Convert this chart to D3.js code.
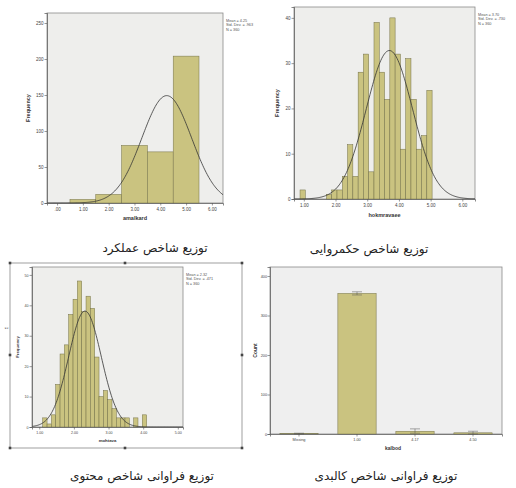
<!DOCTYPE html>
<html><head><meta charset="utf-8">
<script src="https://cdn.jsdelivr.net/npm/d3@7"></script>
<style>body{margin:0;background:#fff}svg{display:block}</style>
</head><body>
<svg id="c" width="516" height="488"></svg>
<script>
// ---------- data ----------
const amalBinStart = 0.5, amalBinWidth = 1;
const amalCounts = [5, 12, 80, 71, 204];
const amalStats = {mean: 4.25, sd: 0.963, n: 360};
const amalXTicks = [0, 1, 2, 3, 4, 5, 6];
const amalXLabels = [".00", "1.00", "2.00", "3.00", "4.00", "5.00", "6.00"];
const amalYTicks = [0, 50, 100, 150, 200, 250];

const hokmBinStart = 0.88, hokmBinWidth = 1 / 6;
const hokmCounts = [2, 0, 0, 0, 0, 1, 2, 2, 5, 12, 5, 28, 32, 6, 39, 28, 22, 40, 32, 11, 31, 22, 11, 14, 24];
const hokmStats = {mean: 3.70, sd: 0.730, n: 360};
const hokmXTicks = [1, 2, 3, 4, 5, 6];
const hokmXLabels = ["1.00", "2.00", "3.00", "4.00", "5.00", "6.00"];
const hokmYTicks = [0, 10, 20, 30, 40];

const mohBinStart = 1.1, mohBinWidth = 0.125;
const mohCounts = [3, 1, 4, 14, 24, 27, 37, 42, 48, 38, 43, 39, 23, 10, 12, 9, 6, 3, 3, 3, 0, 3, 0, 4];
const mohStats = {mean: 2.32, sd: 0.471, n: 360};
const mohXTicks = [1, 2, 3, 4, 5];
const mohXLabels = ["1.00", "2.00", "3.00", "4.00", "5.00"];
const mohYTicks = [0, 10, 20, 30, 40, 50];

const kalCategories = ["Missing", "1.00", "4.17", "4.50"];
const kalCounts = [1, 356, 7, 3];
const kalErrLow = [0, 352, 2, 0];
const kalErrHigh = [2, 360, 13, 7];
const kalYTicks = [0, 100, 200, 300, 400];

const captions = ["توزیع شاخص عملکرد", "توزیع شاخص حکمروایی", "توزیع فراوانی شاخص محتوی", "توزیع فراوانی شاخص کالبدی"];

// ---------- drawing ----------
const svg = d3.select("#c");
svg.append("rect").attr("width", 516).attr("height", 488).attr("fill", "#fff");
const BAR = "#cac380", BAR_STROKE = "#737047", BG = "#eeeeec", FRAME = "#8a8a8a";
const tickFont = "Liberation Sans, Arial, sans-serif";

function normalPdf(x, m, s) { return Math.exp(-0.5 * ((x - m) / s) ** 2) / (s * Math.sqrt(2 * Math.PI)); }

function hist(o) {
  const g = svg.append("g");
  const x = d3.scaleLinear().domain(o.xDomain).range([o.x0, o.x1]);
  const y = d3.scaleLinear().domain(o.yDomain).range([o.y1, o.y0]);
  g.append("rect").attr("x", o.x0).attr("y", o.y0).attr("width", o.x1 - o.x0).attr("height", o.y1 - o.y0)
    .attr("fill", BG).attr("stroke", FRAME).attr("stroke-width", 0.8);
  const bins = o.counts.map((c, i) => ({a: o.start + i * o.width, b: o.start + (i + 1) * o.width, c}));
  g.selectAll(".bar").data(bins.filter(d => d.c > 0)).join("rect")
    .attr("x", d => x(d.a)).attr("width", d => x(d.b) - x(d.a))
    .attr("y", d => y(d.c)).attr("height", d => y(0) - y(d.c))
    .attr("fill", BAR).attr("stroke", BAR_STROKE).attr("stroke-width", 0.5);
  // normal curve
  const s = o.stats;
  const pts = d3.range(o.xDomain[0], o.xDomain[1] + 1e-9, (o.xDomain[1] - o.xDomain[0]) / 200)
    .map(v => [v, s.n * o.width * normalPdf(v, s.mean, s.sd)]);
  g.append("path").datum(pts).attr("fill", "none").attr("stroke", "#333").attr("stroke-width", 0.8)
    .attr("d", d3.line().x(d => x(d[0])).y(d => Math.max(o.y0, y(d[1]))));
  // axes
  const ya = d3.axisLeft(y).tickValues(o.yTicks).tickSize(2.5).tickFormat(d3.format("d"));
  const yg = g.append("g").attr("transform", `translate(${o.x0},0)`).call(ya);
  const xa = d3.axisBottom(x).tickValues(o.xTicks).tickSize(2.5).tickFormat((d, i) => o.xLabels[i]);
  const xg = g.append("g").attr("transform", `translate(0,${o.y1})`).call(xa);
  [yg, xg].forEach(a => {
    a.select(".domain").attr("stroke", "#555").attr("stroke-width", 0.7);
    a.selectAll(".tick line").attr("stroke", "#555").attr("stroke-width", 0.6);
    a.selectAll("text").attr("font-size", o.tick).attr("fill", "#444").attr("font-family", tickFont);
  });
  yg.selectAll("text").attr("x", -3.5);
  xg.selectAll("text").attr("y", 4.5);
  g.append("text").attr("transform", `translate(${o.ylx},${(o.y0 + o.y1) / 2}) rotate(-90)`)
    .attr("text-anchor", "middle").attr("font-size", o.lab).attr("font-weight", "bold")
    .attr("font-family", tickFont).attr("fill", "#333").text("Frequency");
  g.append("text").attr("x", (o.x0 + o.x1) / 2).attr("y", o.xly).attr("text-anchor", "middle")
    .attr("font-size", o.lab).attr("font-weight", "bold").attr("font-family", tickFont).attr("fill", "#333").text(o.xName);
  const lines = [`Mean = ${s.mean.toFixed(2)}`, `Std. Dev. = ${s.sd.toFixed(3).replace(/^0/, "")}`, `N = ${s.n}`];
  g.selectAll(".st").data(lines).join("text").attr("x", o.x1 + 3).attr("y", (d, i) => o.y0 + 9 + i * 4.3)
    .attr("font-size", 3.8).attr("font-family", tickFont).attr("fill", "#555").text(d => d);
}

hist({x0: 47, x1: 223, y0: 13, y1: 203, xDomain: [-0.39, 6.43], yDomain: [0, 263.9],
  start: amalBinStart, width: amalBinWidth, counts: amalCounts, stats: amalStats,
  xTicks: amalXTicks, xLabels: amalXLabels, yTicks: amalYTicks, xName: "amalkard",
  tick: 4.5, lab: 5.5, ylx: 30, xly: 220});

hist({x0: 294, x1: 475, y0: 7, y1: 199, xDomain: [0.69, 6.4], yDomain: [0, 42.4],
  start: hokmBinStart, width: hokmBinWidth, counts: hokmCounts, stats: hokmStats,
  xTicks: hokmXTicks, xLabels: hokmXLabels, yTicks: hokmYTicks, xName: "hokmravaee",
  tick: 4.5, lab: 5.5, ylx: 279, xly: 217});

// outer selection frame for chart 3
const fr = svg.append("g");
fr.append("rect").attr("x", 10).attr("y", 263).attr("width", 232).attr("height", 185)
  .attr("fill", "none").attr("stroke", "#777").attr("stroke-width", 0.7);
[[10, 263], [125, 263], [242, 263], [10, 355], [242, 355], [10, 448], [125, 448], [242, 448]].forEach(p =>
  fr.append("rect").attr("x", p[0] - 1.3).attr("y", p[1] - 1.3).attr("width", 2.6).attr("height", 2.6).attr("fill", "#444"));
fr.append("text").attr("transform", "translate(8,328) rotate(-90)").attr("text-anchor", "middle")
  .attr("font-size", 4).attr("font-family", tickFont).attr("fill", "#333").text("Σ");

hist({x0: 32, x1: 183, y0: 267, y1: 427, xDomain: [0.79, 5.15], yDomain: [0, 52.6],
  start: mohBinStart, width: mohBinWidth, counts: mohCounts, stats: mohStats,
  xTicks: mohXTicks, xLabels: mohXLabels, yTicks: mohYTicks, xName: "mohtava",
  tick: 3.6, lab: 4.3, ylx: 19, xly: 442});

// chart 4: bar chart with error bars
(function () {
  const x0 = 270, x1 = 502, y0 = 267, y1 = 434;
  const g = svg.append("g");
  const x = d3.scaleBand().domain(kalCategories).range([x0, x1]).paddingInner(0.34).paddingOuter(0.17);
  const y = d3.scaleLinear().domain([0, 422.8]).range([y1, y0]);
  g.append("rect").attr("x", x0).attr("y", y0).attr("width", x1 - x0).attr("height", y1 - y0)
    .attr("fill", "#efefef").attr("stroke", FRAME).attr("stroke-width", 0.8);
  g.selectAll(".b").data(kalCategories).join("rect")
    .attr("x", d => x(d)).attr("width", x.bandwidth())
    .attr("y", (d, i) => y(kalCounts[i])).attr("height", (d, i) => y(0) - y(kalCounts[i]))
    .attr("fill", BAR).attr("stroke", BAR_STROKE).attr("stroke-width", 0.5);
  kalCategories.forEach((c, i) => {
    const cx = x(c) + x.bandwidth() / 2, w = 5;
    g.append("line").attr("x1", cx).attr("x2", cx).attr("y1", y(kalErrLow[i])).attr("y2", y(kalErrHigh[i]))
      .attr("stroke", "#555").attr("stroke-width", 0.5);
    [kalErrLow[i], kalErrHigh[i]].forEach(v => g.append("line").attr("x1", cx - w).attr("x2", cx + w)
      .attr("y1", y(v)).attr("y2", y(v)).attr("stroke", "#555").attr("stroke-width", 0.5));
  });
  const yg = g.append("g").attr("transform", `translate(${x0},0)`)
    .call(d3.axisLeft(y).tickValues(kalYTicks).tickSize(2.5));
  const xg = g.append("g").attr("transform", `translate(0,${y1})`).call(d3.axisBottom(x).tickSize(2.5));
  [yg, xg].forEach(a => {
    a.select(".domain").attr("stroke", "#555").attr("stroke-width", 0.7);
    a.selectAll(".tick line").attr("stroke", "#555").attr("stroke-width", 0.6);
    a.selectAll("text").attr("font-size", 3.8).attr("fill", "#444").attr("font-family", tickFont);
  });
  yg.selectAll("text").attr("x", -3);
  xg.selectAll("text").attr("y", 4.5);
  g.append("text").attr("transform", `translate(257,${(y0 + y1) / 2}) rotate(-90)`).attr("text-anchor", "middle")
    .attr("font-size", 5).attr("font-weight", "bold").attr("font-family", tickFont).attr("fill", "#333").text("Count");
  g.append("text").attr("x", 393).attr("y", 450).attr("text-anchor", "middle").attr("font-size", 5)
    .attr("font-weight", "bold").attr("font-family", tickFont).attr("fill", "#333").text("kalbod");
})();

// captions
const capPos = [[155, 252], [369, 253], [142, 480], [386, 480]];
svg.selectAll(".cap").data(captions).join("text")
  .attr("x", (d, i) => capPos[i][0]).attr("y", (d, i) => capPos[i][1])
  .attr("text-anchor", "middle").attr("direction", "rtl").attr("font-size", 12)
  .attr("font-family", "DejaVu Sans, Noto Sans, sans-serif").attr("fill", "#222").text(d => d);
</script>
</body></html>
